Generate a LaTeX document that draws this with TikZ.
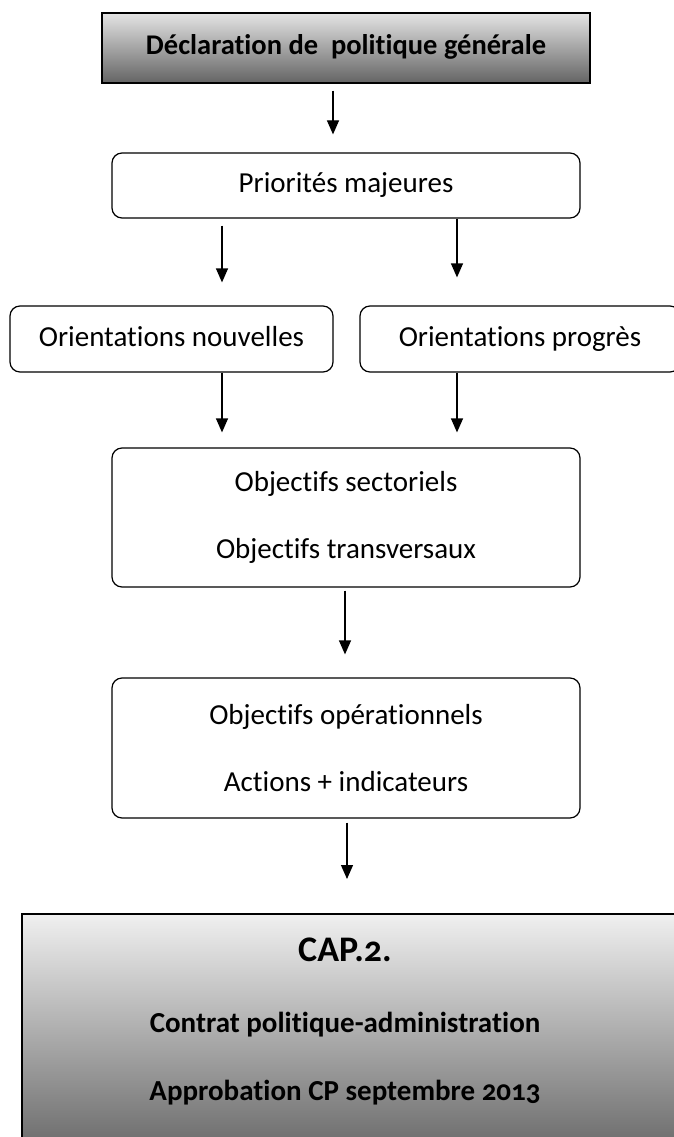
\documentclass[tikz,border=0pt]{standalone}
\usepackage{fontspec}
\setmainfont{Carlito}[Ligatures={NoCommon}]
\newfontfamily\capfont{Carlito}[Numbers=OldStyle,Ligatures={NoCommon}]
\usetikzlibrary{arrows.meta}
\definecolor{gtop}{RGB}{228,228,228}
\definecolor{gbot}{RGB}{100,100,100}
\definecolor{ctop}{RGB}{240,240,240}
\definecolor{cbot}{RGB}{104,104,104}
\tikzset{
  rbox/.style={draw=black, line width=1.2pt, rounded corners=10pt, align=center,
    inner sep=0pt, font=\fontsize{29}{67}\selectfont},
  onebox/.style={rbox, text height=20pt, text depth=6pt},
  arr/.style={line width=1.2pt, -{Triangle[length=14pt,width=12pt]}},
  captext/.style={font=\fontsize{29}{34}\selectfont\capfont\bfseries, text height=20pt, text depth=6pt},
}
\begin{document}
\begin{tikzpicture}[x=1pt,y=1pt]
\useasboundingbox (0,0) rectangle (673,-1137);
\node[draw=black, line width=1.5pt, top color=gtop, bottom color=gbot,
  minimum width=488pt, minimum height=70pt, inner sep=0pt, text height=20pt, text depth=6pt,
  font=\fontsize{28.5}{35}\selectfont\bfseries] (top) at (346,-48)
  {Déclaration de\ \ politique générale};
\node[onebox, minimum width=468pt, minimum height=65pt] (pri) at (346,-185.5) {Priorités majeures};
\node[onebox, minimum width=323pt, minimum height=66pt] (on) at (171.5,-339) {Orientations nouvelles};
\node[onebox, minimum width=320pt, minimum height=66pt] (op) at (520,-339) {Orientations progrès};
\node[rbox, minimum width=468pt, minimum height=139pt] (os) at (346,-517.5)
  {Objectifs sectoriels\\Objectifs transversaux};
\node[rbox, minimum width=468pt, minimum height=140pt] (oo) at (346,-748)
  {Objectifs opérationnels\\Actions + indicateurs};
\node[draw=black, line width=2pt, top color=ctop, bottom color=cbot,
  minimum width=680pt, minimum height=240pt, inner sep=0pt] (cap) at (362,-1034) {};
\node[font=\fontsize{36}{40}\selectfont\capfont\bfseries, text height=25pt, text depth=7pt] (capt) at (345,-952) {CAP.2.};
\node[captext] (capc) at (345,-1025) {Contrat politique-administration};
\node[captext] (capa) at (345,-1093) {Approbation CP septembre 2013};
\draw[arr, shorten <=7pt, shorten >=18pt] ([xshift=-13pt]top.south) -- ([xshift=-13pt]pri.north);
\draw[arr, shorten <=7pt, shorten >=23pt] ([xshift=-124pt]pri.south) -- ([xshift=50.5pt]on.north);
\draw[arr, shorten >=28pt] ([xshift=111pt]pri.south) -- ([xshift=-63pt]op.north);
\draw[arr, shorten >=15pt] ([xshift=50.5pt]on.south) -- ([xshift=-124pt]os.north);
\draw[arr, shorten >=15pt] ([xshift=-63pt]op.south) -- ([xshift=111pt]os.north);
\draw[arr, shorten <=3pt, shorten >=23pt] ([xshift=-1pt]os.south) -- ([xshift=-1pt]oo.north);
\draw[arr, shorten <=4pt, shorten >=34pt] ([xshift=1pt]oo.south) -- ([xshift=-15pt]cap.north);
\end{tikzpicture}
\end{document}
